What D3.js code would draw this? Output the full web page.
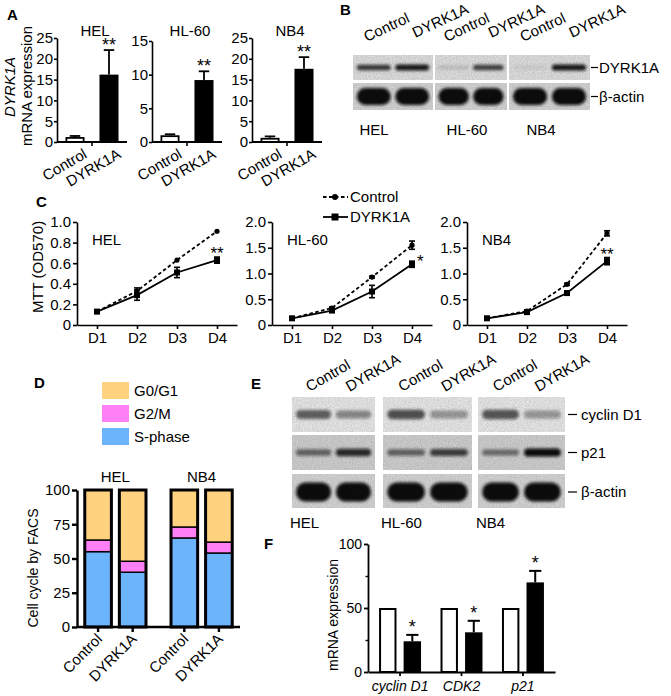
<!DOCTYPE html>
<html><head><meta charset="utf-8">
<script src="https://cdn.jsdelivr.net/npm/d3@7"></script>
<style>
body{margin:0;background:#fff}
svg{display:block}
text{font-family:"Liberation Sans",Arial,sans-serif;fill:#000}
</style></head><body>
<svg id="fig" width="671" height="696"></svg>
<script>
// ---------------- DATA ----------------
const conditions = ["Control", "DYRK1A"];
// Panel A: DYRK1A mRNA expression
const mrnaCells = ["HEL", "HL-60", "NB4"];
const mrnaControl = [1.2, 1.0, 1.0];
const mrnaDyrk = [16.2, 9.2, 17.6];
const mrnaControlErr = [0.25, 0.15, 0.35];
const mrnaDyrkErr = [5.9, 1.3, 2.8];
const mrnaMax = [25, 15, 25];
const mrnaTicks = [[0, 5, 10, 15, 20, 25], [0, 5, 10, 15], [0, 5, 10, 15, 20, 25]];
const mrnaSig = ["**", "**", "**"];
// Panel B: western blot band intensities [Control, DYRK1A] per cell line
const bCells = ["HEL", "HL-60", "NB4"];
const bRows = ["DYRK1A", "β-actin"];
const bDyrkBand = [[0.8, 0.95], [0.15, 0.75], [0.08, 0.95]];
const bActinBand = [[1, 1], [1, 1], [1, 1]];
// Panel C: MTT (OD570)
const days = ["D1", "D2", "D3", "D4"];
const mttCells = ["HEL", "HL-60", "NB4"];
const mttControl = [[0.13, 0.33, 0.63, 0.91], [0.13, 0.33, 0.93, 1.55], [0.13, 0.27, 0.79, 1.78]];
const mttControlErr = [[0.01, 0.03, 0.01, 0.01], [0.01, 0.02, 0.02, 0.08], [0.01, 0.02, 0.02, 0.05]];
const mttDyrk = [[0.13, 0.29, 0.51, 0.63], [0.13, 0.28, 0.65, 1.18], [0.13, 0.25, 0.62, 1.24]];
const mttDyrkErr = [[0.01, 0.05, 0.05, 0.03], [0.01, 0.02, 0.12, 0.06], [0.01, 0.02, 0.04, 0.07]];
const mttMax = [1.0, 2.0, 2.0];
const mttTicks = [[0, 0.2, 0.4, 0.6, 0.8, 1.0], [0, 0.5, 1.0, 1.5, 2.0], [0, 0.5, 1.0, 1.5, 2.0]];
const mttSig = ["**", "*", "**"];
// Panel D: cell cycle by FACS (%)
const facsGroups = ["HEL", "NB4"];
const phaseKeys = ["S-phase", "G2/M", "G0/G1"];
const facsS = [[55, 40], [65, 54]];
const facsG2M = [[8.5, 8], [8, 8]];
const facsG0G1 = [[36.5, 52], [27, 38]];
const facsTicks = [0, 25, 50, 75, 100];
// Panel E: western blot band intensities
const eRows = ["cyclin D1", "p21", "β-actin"];
const eCyclinBand = [[0.6, 0.42], [0.68, 0.35], [0.65, 0.35]];
const eP21Band = [[0.55, 0.85], [0.55, 0.75], [0.5, 1.0]];
const eActinBand = [[1, 1], [1, 1], [1, 1]];
// Panel F: mRNA expression
const genes = ["cyclin D1", "CDK2", "p21"];
const fControl = [50, 50, 50];
const fDyrk = [24, 31, 70];
const fDyrkErr = [5, 9, 9];
const fSig = ["*", "*", "*"];

// ---------------- DRAW ----------------
const svg = d3.select("#fig");
const FONT = '"Liberation Sans", Arial, sans-serif';
const FS = 15;
const defs = svg.append("defs");
defs.append("filter").attr("id", "blur").attr("x", "-20%").attr("y", "-60%").attr("width", "140%").attr("height", "220%")
  .append("feGaussianBlur").attr("stdDeviation", 1.4);
const nf = defs.append("filter").attr("id", "noise").attr("x", 0).attr("y", 0).attr("width", "100%").attr("height", "100%");
nf.append("feTurbulence").attr("type", "fractalNoise").attr("baseFrequency", 0.8).attr("numOctaves", 2).attr("seed", 4).attr("result", "t");
nf.append("feColorMatrix").attr("in", "t").attr("type", "matrix")
  .attr("values", "0 0 0 0 0  0 0 0 0 0  0 0 0 0 0  0 0 0 0.22 0").attr("result", "n");
nf.append("feComposite").attr("in", "n").attr("in2", "SourceGraphic").attr("operator", "in");

function styleAxis(sel, sw, fs) {
  sel.attr("font-family", FONT).attr("font-size", fs || FS);
  sel.selectAll("path,line").attr("stroke", "#000").attr("stroke-width", sw);
  sel.selectAll("text").attr("fill", "#000");
}
function panelLabel(t, x, y) {
  svg.append("text").attr("x", x).attr("y", y).attr("font-size", 15).attr("font-weight", "bold").text(t);
}
function errBar(g, x, y1, y2, w, sw) {
  g.append("line").attr("x1", x).attr("x2", x).attr("y1", y1).attr("y2", y2).attr("stroke", "#000").attr("stroke-width", sw);
  g.append("line").attr("x1", x - w / 2).attr("x2", x + w / 2).attr("y1", y2).attr("y2", y2).attr("stroke", "#000").attr("stroke-width", sw);
}

// ===== Panel A =====
panelLabel("A", 7, 20);
{
  const layout = [{ x0: 57, top: 38 }, { x0: 152, top: 41 }, { x0: 252, top: 38 }];
  const base = 142, w = 70;
  svg.append("text").attr("transform", "translate(15,87) rotate(-90)").attr("text-anchor", "middle").attr("font-size", FS)
    .attr("font-style", "italic").text("DYRK1A");
  svg.append("text").attr("transform", "translate(32,86) rotate(-90)").attr("text-anchor", "middle").attr("font-size", FS).text("mRNA expression");
  mrnaCells.forEach((cell, i) => {
    const L = layout[i];
    const g = svg.append("g");
    const x = d3.scaleBand().domain(conditions).range([L.x0, L.x0 + w]).paddingInner(0.44).paddingOuter(0.25);
    const y = d3.scaleLinear().domain([0, mrnaMax[i]]).range([base, L.top]);
    const vals = [mrnaControl[i], mrnaDyrk[i]];
    const errs = [mrnaControlErr[i], mrnaDyrkErr[i]];
    conditions.forEach((c, j) => {
      errBar(g, x(c) + x.bandwidth() / 2, y(vals[j]), y(vals[j] + errs[j]), x.bandwidth() * 0.55, 1.8);
    });
    g.selectAll("rect.bar").data(vals).join("rect")
      .attr("x", (d, j) => x(conditions[j]) + 0.9).attr("width", x.bandwidth() - 1.8)
      .attr("y", d => y(d) + 0.9).attr("height", d => y(0) - y(d) - 0.9)
      .attr("fill", (d, j) => j === 0 ? "#fff" : "#000").attr("stroke", "#000").attr("stroke-width", 1.8);
    const ya = g.append("g").attr("transform", `translate(${L.x0},0)`)
      .call(d3.axisLeft(y).tickValues(mrnaTicks[i]).tickSize(3).tickSizeOuter(0).tickPadding(1).tickFormat(d3.format("d")));
    styleAxis(ya, 1.6);
    g.append("line").attr("x1", L.x0).attr("x2", L.x0 + w).attr("y1", base).attr("y2", base).attr("stroke", "#000").attr("stroke-width", 1.8);
    const mid = (x("Control") + x.bandwidth() + x("DYRK1A")) / 2;
    g.append("line").attr("x1", mid).attr("x2", mid).attr("y1", base).attr("y2", base + 4).attr("stroke", "#000").attr("stroke-width", 1.6);
    conditions.forEach((c, j) => {
      const cx = x(c) + x.bandwidth() / 2;
      g.append("text").attr("text-anchor", "end").attr("font-size", FS)
        .attr("transform", `translate(${cx + 13},${base + 15}) rotate(-30)`).text(c);
    });
    g.append("text").attr("x", L.x0 + w / 2 + 3).attr("y", 36).attr("text-anchor", "middle").attr("font-size", FS).text(cell);
    g.append("text").attr("x", x("DYRK1A") + x.bandwidth() / 2).attr("y", y(vals[1] + errs[1]) + 1)
      .attr("text-anchor", "middle").attr("font-size", 18).text(mrnaSig[i]);
  });
}

// ===== Blot helper =====
let clipId = 0;
function blotPanel(g, xr, yr, bg, vals, thick, yOff) {
  const id = "clip" + (clipId++);
  defs.append("clipPath").attr("id", id).append("rect")
    .attr("x", xr[0]).attr("y", yr[0]).attr("width", xr[1] - xr[0]).attr("height", yr[1] - yr[0]);
  const pg = g.append("g").attr("clip-path", `url(#${id})`);
  pg.append("rect").attr("x", xr[0]).attr("y", yr[0]).attr("width", xr[1] - xr[0]).attr("height", yr[1] - yr[0]).attr("fill", bg);
  const lane = d3.scaleBand().domain(conditions).range(xr).paddingInner(0.12).paddingOuter(0.1);
  const yc = (yr[0] + yr[1]) / 2 + (yOff || 0);
  const th = d3.scaleLinear().domain([0, 1]).range([thick * 0.55, thick]);
  pg.selectAll("rect.band").data(vals).join("rect").attr("class", "band")
    .attr("x", (d, j) => lane(conditions[j])).attr("width", lane.bandwidth())
    .attr("y", d => yc - th(d) / 2).attr("height", d => th(d)).attr("rx", d => th(d) / 2)
    .attr("fill", "#0b0b0b").attr("opacity", d => d).attr("filter", "url(#blur)");
  pg.append("rect").attr("x", xr[0]).attr("y", yr[0]).attr("width", xr[1] - xr[0]).attr("height", yr[1] - yr[0])
    .attr("fill", "#000").attr("filter", "url(#noise)");
  return lane;
}

// ===== Panel B =====
panelLabel("B", 340, 15);
{
  const g = svg.append("g");
  const px = [[353, 433], [435, 507], [509, 590]];
  const rowsY = [[55, 80], [83, 110]];
  const labelX = [374, 467, 541];
  const bands = [bDyrkBand, bActinBand];
  const bgs = ["#ececec", "#e2e2e2"];
  const thick = [6, 17];
  bCells.forEach((cell, i) => {
    let lane;
    bRows.forEach((r, k) => { lane = blotPanel(g, px[i], rowsY[k], bgs[k], bands[k][i], thick[k], 0); });
    conditions.forEach((c, j) => {
      const cx = lane(c) + lane.bandwidth() / 2;
      g.append("text").attr("font-size", FS)
        .attr("transform", `translate(${cx + (j === 0 ? -7 : 3)},${j === 0 ? 42 : 38}) rotate(-25)`).text(c);
    });
    g.append("text").attr("x", labelX[i]).attr("y", 135).attr("text-anchor", "middle").attr("font-size", FS).text(cell);
  });
  bRows.forEach((r, k) => {
    const yc = (rowsY[k][0] + rowsY[k][1]) / 2;
    g.append("line").attr("x1", 591).attr("x2", 598).attr("y1", yc).attr("y2", yc).attr("stroke", "#000").attr("stroke-width", 1.2);
    g.append("text").attr("x", 599).attr("y", yc + 5).attr("font-size", FS).text(r);
  });
}

// ===== Panel C =====
panelLabel("C", 36, 207);
{
  const xs0 = [77, 272, 467];
  const base = 325, top = 222, w = 160;
  svg.append("text").attr("transform", "translate(43,267) rotate(-90)").attr("text-anchor", "middle").attr("font-size", FS).text("MTT (OD570)");
  mttCells.forEach((cell, i) => {
    const g = svg.append("g");
    const x = d3.scalePoint().domain(days).range([xs0[i], xs0[i] + w]).padding(0.5);
    const y = d3.scaleLinear().domain([0, mttMax[i]]).range([base, top]);
    const ya = g.append("g").attr("transform", `translate(${xs0[i]},0)`)
      .call(d3.axisLeft(y).tickValues(mttTicks[i]).tickSize(4).tickSizeOuter(0).tickPadding(2).tickFormat(d => d === 0 ? "0" : d3.format(".1f")(d)));
    styleAxis(ya, 1.6);
    const xa = g.append("g").attr("transform", `translate(0,${base})`)
      .call(d3.axisBottom(x).tickSize(4).tickSizeOuter(0).tickPadding(3));
    styleAxis(xa, 1.6);
    const series = [
      { v: mttControl[i], e: mttControlErr[i], dash: "3.5,2.5" },
      { v: mttDyrk[i], e: mttDyrkErr[i], dash: null }
    ];
    series.forEach((s, k) => {
      const line = d3.line().x((d, j) => x(days[j])).y(d => y(d));
      g.append("path").datum(s.v).attr("d", line).attr("fill", "none").attr("stroke", "#000").attr("stroke-width", 1.8)
        .attr("stroke-dasharray", s.dash);
      s.v.forEach((d, j) => {
        const cx = x(days[j]);
        if (s.e[j] > 0.015) {
          errBar(g, cx, y(d), y(d + s.e[j]), 6, 1.6);
          errBar(g, cx, y(d), y(d - s.e[j]), 6, 1.6);
        }
        if (k === 0) g.append("circle").attr("cx", cx).attr("cy", y(d)).attr("r", 2.6).attr("fill", "#000");
        else g.append("rect").attr("x", cx - 3).attr("y", y(d) - 3).attr("width", 6).attr("height", 6).attr("fill", "#000");
      });
    });
    g.append("text").attr("x", xs0[i] + 15).attr("y", 245).attr("font-size", FS).text(cell);
    const xd4 = x("D4"), yd4 = y(mttDyrk[i][3] + mttDyrkErr[i][3]);
    if (mttSig[i] === "*") g.append("text").attr("x", xd4 + 5).attr("y", yd4 + 6).attr("font-size", 17).text(mttSig[i]);
    else g.append("text").attr("x", xd4).attr("y", yd4 + 2).attr("text-anchor", "middle").attr("font-size", 17).text(mttSig[i]);
  });
  const lg = svg.append("g");
  lg.append("line").attr("x1", 323).attr("x2", 348).attr("y1", 197).attr("y2", 197).attr("stroke", "#000").attr("stroke-width", 1.8).attr("stroke-dasharray", "3.5,2.5");
  lg.append("circle").attr("cx", 335).attr("cy", 197).attr("r", 3).attr("fill", "#000");
  lg.append("text").attr("x", 350).attr("y", 202).attr("font-size", FS).text(conditions[0]);
  lg.append("line").attr("x1", 323).attr("x2", 348).attr("y1", 217).attr("y2", 217).attr("stroke", "#000").attr("stroke-width", 1.8);
  lg.append("rect").attr("x", 331.5).attr("y", 213.5).attr("width", 7).attr("height", 7).attr("fill", "#000");
  lg.append("text").attr("x", 350).attr("y", 222).attr("font-size", FS).text(conditions[1]);
}

// ===== Panel D =====
panelLabel("D", 34, 388);
{
  const colors = { "S-phase": "#6cb4fb", "G2/M": "#ff80f6", "G0/G1": "#fed27f" };
  const g = svg.append("g");
  [...phaseKeys].reverse().forEach((k, i) => {
    g.append("rect").attr("x", 102).attr("y", 382 + i * 23).attr("width", 27).attr("height", 17).attr("fill", colors[k]);
    g.append("text").attr("x", 134).attr("y", 396 + i * 23).attr("font-size", FS).text(k);
  });
  const x0 = 77, x1 = 240, base = 627, top = 490;
  const gx = d3.scaleBand().domain(facsGroups).range([x0, x1]).paddingInner(0.29).paddingOuter(0.09);
  const sx = d3.scaleBand().domain(conditions).range([0, gx.bandwidth()]).paddingInner(0.23).paddingOuter(0);
  const y = d3.scaleLinear().domain([0, 100]).range([base, top]);
  const rows = [];
  facsGroups.forEach((gr, i) => conditions.forEach((c, j) => rows.push({ group: gr, cond: c, "S-phase": facsS[i][j], "G2/M": facsG2M[i][j], "G0/G1": facsG0G1[i][j] })));
  const stacked = d3.stack().keys(phaseKeys)(rows);
  stacked.forEach(layer => {
    g.selectAll(null).data(layer).join("rect")
      .attr("x", d => gx(d.data.group) + sx(d.data.cond)).attr("width", sx.bandwidth())
      .attr("y", d => y(d[1])).attr("height", d => y(d[0]) - y(d[1]))
      .attr("fill", colors[layer.key]).attr("stroke", "#000").attr("stroke-width", 1.4);
  });
  g.selectAll("rect.outline").data(rows).join("rect")
    .attr("x", d => gx(d.group) + sx(d.cond)).attr("width", sx.bandwidth())
    .attr("y", y(100)).attr("height", y(0) - y(100))
    .attr("fill", "none").attr("stroke", "#000").attr("stroke-width", 3);
  const ya = g.append("g").attr("transform", `translate(${x0},0)`)
    .call(d3.axisLeft(y).tickValues(facsTicks).tickSize(5).tickSizeOuter(0).tickPadding(2));
  styleAxis(ya, 2.4);
  g.append("line").attr("x1", x0).attr("x2", x1).attr("y1", base).attr("y2", base).attr("stroke", "#000").attr("stroke-width", 2.6);
  rows.forEach(d => {
    const cx = gx(d.group) + sx(d.cond) + sx.bandwidth() / 2;
    g.append("line").attr("x1", cx).attr("x2", cx).attr("y1", base).attr("y2", base + 5).attr("stroke", "#000").attr("stroke-width", 2.4);
    g.append("text").attr("text-anchor", "end").attr("font-size", FS)
      .attr("transform", `translate(${cx + 5},${base + 13}) rotate(-45)`).text(d.cond);
  });
  facsGroups.forEach(gr => {
    g.append("text").attr("x", gx(gr) + gx.bandwidth() / 2).attr("y", 482).attr("text-anchor", "middle").attr("font-size", FS).text(gr);
  });
  svg.append("text").attr("transform", "translate(38,568) rotate(-90)").attr("text-anchor", "middle").attr("font-size", 14).text("Cell cycle by FACS");
}

// ===== Panel E =====
panelLabel("E", 251, 389);
{
  const g = svg.append("g");
  const px = [[292, 375], [383, 472], [478, 565]];
  const rowsY = [[397, 432], [435, 470], [474, 508]];
  const bands = [eCyclinBand, eP21Band, eActinBand];
  const bgs = ["#f6f6f6", "#dcdcdc", "#e2e2e2"];
  const thick = [11, 8, 19];
  const offs = [0, 0, 1];
  bCells.forEach((cell, i) => {
    let lane;
    eRows.forEach((r, k) => { lane = blotPanel(g, px[i], rowsY[k], bgs[k], bands[k][i], thick[k], offs[k]); });
    conditions.forEach(c => {
      const cx = lane(c) + lane.bandwidth() / 2;
      g.append("text").attr("font-size", FS).attr("transform", `translate(${cx - 4},392) rotate(-30)`).text(c);
    });
    g.append("text").attr("x", px[i][0] - 2).attr("y", 528).attr("font-size", FS).text(cell);
  });
  eRows.forEach((r, k) => {
    const yc = (rowsY[k][0] + rowsY[k][1]) / 2 + offs[k];
    g.append("line").attr("x1", 568).attr("x2", 577).attr("y1", yc).attr("y2", yc).attr("stroke", "#000").attr("stroke-width", 1.2);
    g.append("text").attr("x", 581).attr("y", yc + 5).attr("font-size", FS).text(r);
  });
}

// ===== Panel F =====
panelLabel("F", 264, 549);
{
  const g = svg.append("g");
  const x0 = 368, x1 = 555, base = 672, top = 544;
  const gx = d3.scaleBand().domain(genes).range([x0, x1]).paddingInner(0.317).paddingOuter(0.18);
  const sx = d3.scaleBand().domain(conditions).range([0, gx.bandwidth()]).paddingInner(0.29).paddingOuter(0);
  const y = d3.scaleLinear().domain([0, 100]).range([base, top]);
  genes.forEach((gn, i) => {
    const cxB = gx(gn) + sx("DYRK1A") + sx.bandwidth() / 2;
    errBar(g, cxB, y(fDyrk[i]), y(fDyrk[i] + fDyrkErr[i]), sx.bandwidth() * 0.7, 2);
    g.append("rect").attr("x", gx(gn) + sx("Control") + 1).attr("width", sx.bandwidth() - 2)
      .attr("y", y(fControl[i]) + 1).attr("height", y(0) - y(fControl[i]) - 1)
      .attr("fill", "#fff").attr("stroke", "#000").attr("stroke-width", 2);
    g.append("rect").attr("x", gx(gn) + sx("DYRK1A")).attr("width", sx.bandwidth())
      .attr("y", y(fDyrk[i])).attr("height", y(0) - y(fDyrk[i])).attr("fill", "#000");
    g.append("text").attr("x", cxB).attr("y", y(fDyrk[i] + fDyrkErr[i]) - 2).attr("text-anchor", "middle").attr("font-size", 18).text(fSig[i]);
  });
  const ya = g.append("g").attr("transform", `translate(${x0},0)`)
    .call(d3.axisLeft(y).tickValues([0, 50, 100]).tickSize(4).tickSizeOuter(0).tickPadding(2));
  styleAxis(ya, 1.8, 14);
  const ym = g.append("g").attr("transform", `translate(${x0},0)`)
    .call(d3.axisLeft(y).tickValues([25, 75]).tickSize(2.5).tickSizeOuter(0).tickFormat(""));
  styleAxis(ym, 1.4); ym.select(".domain").remove();
  const xa = g.append("g").attr("transform", `translate(0,${base})`)
    .call(d3.axisBottom(gx).tickSize(4).tickSizeOuter(0).tickPadding(5));
  styleAxis(xa, 1.8, 14);
  xa.selectAll("text").attr("font-style", "italic");
  svg.append("text").attr("transform", "translate(338,615) rotate(-90)").attr("text-anchor", "middle").attr("font-size", 14).text("mRNA expression");
}
</script></body></html>
